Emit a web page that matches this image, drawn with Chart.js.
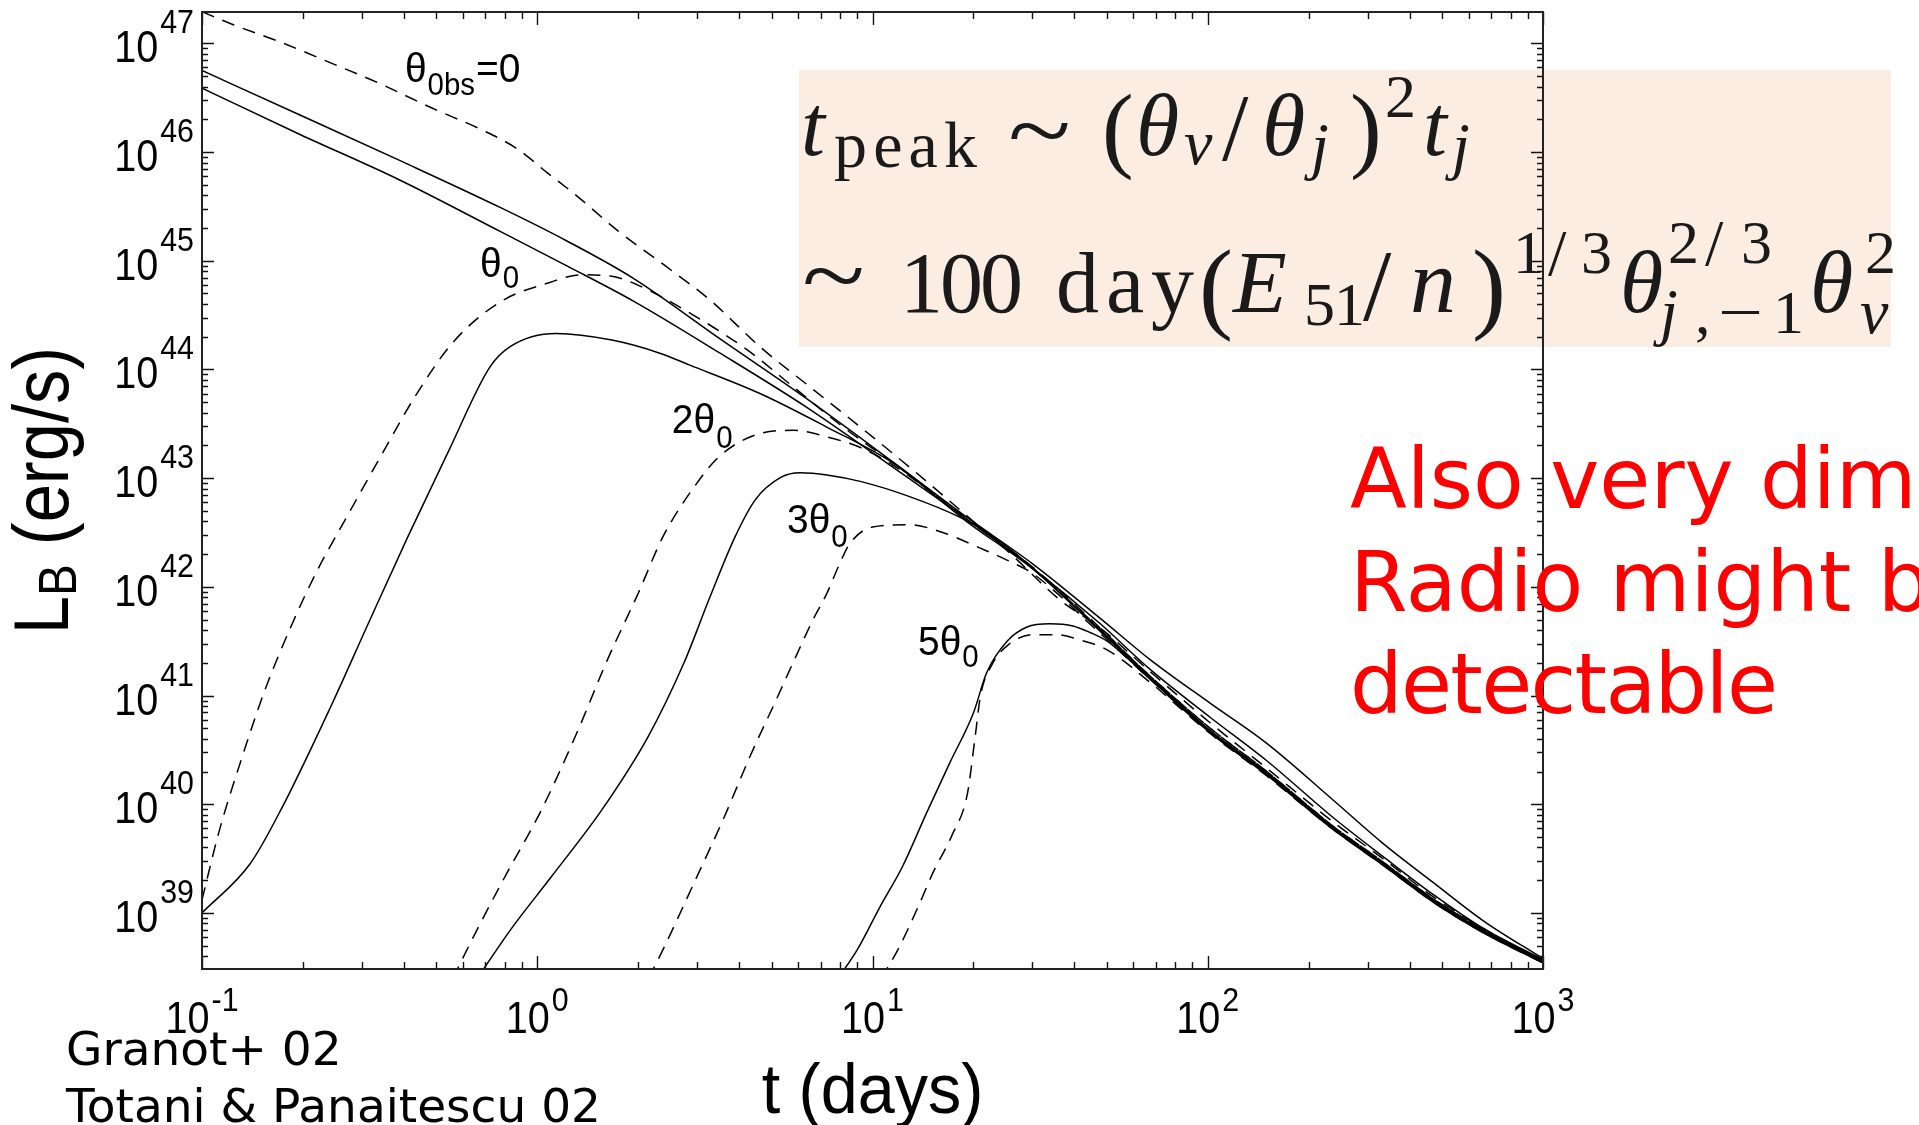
<!DOCTYPE html>
<html>
<head>
<meta charset="utf-8">
<script src="https://cdn.jsdelivr.net/npm/chart.js@4.4.1/dist/chart.umd.min.js"></script>
<style>
html,body{margin:0;padding:0;background:#fff;overflow:hidden;width:1919px;height:1125px;}
#wrap{position:relative;width:1919px;height:1125px;overflow:hidden;}
#box{position:absolute;left:799px;top:70px;width:1092px;height:277px;background:#FCEDE2;}
#c{position:absolute;left:0;top:0;}
#ov{position:absolute;left:0;top:0;pointer-events:none;overflow:hidden;}
.f{font-family:'Liberation Serif','DejaVu Serif',serif;fill:#1a1a1a;}
.i{font-style:italic;}
.red{font-family:'DejaVu Sans',sans-serif;fill:#ff0000;font-size:83px;}
.cr{font-family:'DejaVu Sans',sans-serif;fill:#000;font-size:47px;}
</style>
</head>
<body>
<div id="wrap">
<div id="box"></div>
<canvas id="c" width="1919" height="1125"></canvas>
<svg id="ov" width="1919" height="1125" xmlns="http://www.w3.org/2000/svg">
  <!-- formula line 1 -->
  <text class="f i" x="801" y="155" font-size="86">t</text>
  <text class="f" x="834" y="167" font-size="66" textLength="143" lengthAdjust="spacing">peak</text>
  <text class="f" x="1008" y="162" font-size="96" textLength="63" lengthAdjust="spacingAndGlyphs">~</text>
  <text class="f" x="1102" y="160" font-size="95">(</text>
  <text class="f i" x="1136" y="155" font-size="88">θ</text>
  <text class="f i" x="1184" y="164" font-size="64">v</text>
  <text class="f" x="1222" y="160" font-size="95">/</text>
  <text class="f i" x="1262" y="155" font-size="88">θ</text>
  <text class="f i" x="1311" y="167" font-size="64">j</text>
  <text class="f" x="1350" y="160" font-size="95">)</text>
  <text class="f" x="1385" y="117" font-size="62">2</text>
  <text class="f i" x="1423" y="155" font-size="86">t</text>
  <text class="f i" x="1452" y="167" font-size="64">j</text>
  <!-- formula line 2 -->
  <text class="f" x="802" y="307" font-size="96" textLength="63" lengthAdjust="spacingAndGlyphs">~</text>
  <text class="f" x="900" y="312" font-size="86" textLength="123" lengthAdjust="spacing">100</text>
  <text class="f" x="1056" y="312" font-size="86" textLength="138" lengthAdjust="spacing">day</text>
  <text class="f" x="1199" y="320" font-size="102">(</text>
  <text class="f i" x="1233" y="312" font-size="88">E</text>
  <text class="f" x="1304" y="325" font-size="62" textLength="61" lengthAdjust="spacing">51</text>
  <text class="f" x="1363" y="320" font-size="102">/</text>
  <text class="f i" x="1410" y="312" font-size="92">n</text>
  <text class="f" x="1472" y="320" font-size="102">)</text>
  <text class="f" x="1513" y="273" font-size="62">1</text>
  <text class="f" x="1548" y="275" font-size="66">/</text>
  <text class="f" x="1581" y="273" font-size="62">3</text>
  <text class="f i" x="1620" y="312" font-size="88">θ</text>
  <text class="f" x="1668" y="263" font-size="62">2</text>
  <text class="f" x="1705" y="265" font-size="66">/</text>
  <text class="f" x="1741" y="263" font-size="62">3</text>
  <text class="f i" x="1660" y="333" font-size="64">j</text>
  <text class="f" x="1695" y="333" font-size="62">,</text>
  <text class="f" x="1718" y="333" font-size="62" textLength="45" lengthAdjust="spacingAndGlyphs">−</text>
  <text class="f" x="1773" y="333" font-size="62">1</text>
  <text class="f i" x="1810" y="312" font-size="88">θ</text>
  <text class="f" x="1865" y="273" font-size="62">2</text>
  <text class="f i" x="1860" y="333" font-size="64">v</text>
  <!-- red note -->
  <text class="red" x="1350" y="508">Also very dim</text>
  <text class="red" x="1350" y="611">Radio might be</text>
  <text class="red" x="1350" y="713" textLength="428" lengthAdjust="spacing">detectable</text>
  <!-- credits -->
  <text class="cr" x="66" y="1065">Granot+ 02</text>
  <text class="cr" x="66" y="1122">Totani &amp; Panaitescu 02</text>
</svg>
</div>
<script>
// ---------------- data (t in days, L_B in erg/s) ----------------
// theta_obs = 0, dashed
const dash0_t = [0.1, 0.124, 0.175, 0.246, 0.333, 0.489, 0.689, 0.871, 1.07, 1.32, 1.73, 2.44, 3.27, 4.61, 6.5, 9.2, 12.9, 18.2, 25.7, 36.2, 47.8, 67.3, 101.6, 150, 236, 333, 470, 662, 1000];
const dash0_L = [1.95e47, 1.48e47, 1.00e47, 6.46e46, 4.37e46, 2.51e46, 1.58e46, 1.07e46, 6.46e45, 3.89e45, 1.91e45, 8.71e44, 4.37e44, 1.62e44, 6.92e43, 2.95e43, 1.26e43, 5.13e42, 2.04e42, 7.59e41, 4.17e41, 1.66e41, 5.62e40, 2.14e40, 6.92e39, 3.16e39, 1.41e39, 7.24e38, 3.63e38];
// upper straight solid
const solidA_t = [0.1, 0.196, 0.39, 0.775, 1.23, 1.93, 3.51, 6.3, 11.5, 19.1, 30.1, 47.8, 67.3, 101.6, 150, 236, 333, 470, 662, 1000];
const solidA_L = [5.62e46, 2.19e46, 8.32e45, 3.09e45, 1.51e45, 6.92e44, 1.91e44, 5.50e43, 1.41e43, 4.37e42, 1.62e42, 5.13e41, 2.14e41, 8.51e40, 3.63e40, 1.10e40, 4.37e39, 1.91e39, 8.51e38, 3.80e38];
// lower straight solid
const solidB_t = [0.1, 0.196, 0.39, 0.775, 1.23, 1.93, 3.51, 6.3, 11.5, 19.1, 30.1, 47.8, 67.3, 101.6, 150, 236, 333, 470, 662, 1000];
const solidB_L = [3.86e46, 1.45e46, 5.50e45, 1.86e45, 8.91e44, 4.27e44, 1.41e44, 4.57e43, 1.26e43, 4.17e42, 1.48e42, 4.57e41, 1.74e41, 6.31e40, 2.51e40, 7.59e39, 3.31e39, 1.48e39, 7.24e38, 3.72e38];
// theta_0, dashed
const dash1_t = [0.1, 0.112, 0.130, 0.154, 0.184, 0.219, 0.27, 0.334, 0.438, 0.561, 0.775, 1.09, 1.34, 1.65, 1.98, 2.92, 4.23, 5.8, 8.17, 11.5, 19.1, 30.1, 47.8, 67.3, 101.6, 150, 236, 333, 470, 662, 1000];
const dash1_L = [1.32e39, 5.37e39, 2.40e40, 1.12e41, 4.27e41, 1.35e42, 4.37e42, 1.41e43, 6.03e43, 1.78e44, 4.17e44, 6.31e44, 7.41e44, 7.24e44, 6.03e44, 3.16e44, 1.51e44, 6.92e43, 2.95e43, 1.38e43, 4.27e42, 1.51e42, 4.17e41, 1.51e41, 5.01e40, 2.00e40, 6.31e39, 2.95e39, 1.35e39, 7.08e38, 3.63e38];
// 2 theta_0, solid
const solid2_t = [0.1, 0.139, 0.172, 0.244, 0.310, 0.411, 0.546, 0.722, 0.83, 1.14, 1.67, 2.32, 2.84, 4.6, 7.3, 11.5, 19.1, 30.1, 47.8, 67.3, 101.6, 150, 236, 333, 470, 662, 1000];
const solid2_L = [1.00e39, 2.82e39, 8.91e39, 8.32e40, 4.27e41, 2.88e42, 1.82e43, 1.05e44, 1.62e44, 2.14e44, 1.86e44, 1.41e44, 1.10e44, 6.03e43, 2.95e43, 1.38e43, 3.98e42, 1.45e42, 3.98e41, 1.48e41, 4.79e40, 1.95e40, 6.17e39, 2.88e39, 1.32e39, 6.92e38, 3.63e38];
// 2 theta_0, dashed
const dash2_t = [0.56, 0.66, 0.80, 1.03, 1.31, 1.62, 2.0, 2.37, 2.94, 3.49, 4.61, 5.8, 7.3, 9.2, 11.5, 19.1, 30.1, 47.8, 67.3, 101.6, 150, 236, 333, 470, 662, 1000];
const dash2_L = [2.51e38, 6.92e38, 2.14e39, 8.91e39, 4.47e40, 2.14e41, 8.71e41, 2.88e42, 8.32e42, 1.58e43, 2.57e43, 2.75e43, 2.40e43, 1.91e43, 1.32e43, 4.17e42, 1.48e42, 4.07e41, 1.51e41, 5.01e40, 2.00e40, 6.31e39, 2.95e39, 1.35e39, 7.08e38, 3.63e38];
// 3 theta_0, solid
const solid3_t = [0.68, 0.83, 1.10, 1.56, 2.14, 2.74, 3.25, 3.89, 4.47, 5.34, 6.08, 7.31, 9.19, 12.9, 18.2, 23.0, 30.1, 47.8, 67.3, 101.6, 150, 236, 333, 470, 662, 1000];
const solid3_L = [2.82e38, 6.92e38, 2.14e39, 8.91e39, 4.17e40, 2.00e41, 7.59e41, 2.88e42, 6.31e42, 1.02e43, 1.12e43, 1.07e43, 9.33e42, 6.76e42, 4.37e42, 2.88e42, 1.48e42, 3.89e41, 1.45e41, 4.68e40, 1.91e40, 6.03e39, 2.82e39, 1.29e39, 6.76e38, 3.55e38];
// 3 theta_0, dashed
const dash3_t = [2.15, 2.37, 2.94, 3.61, 4.31, 5.16, 5.91, 6.65, 7.31, 8.0, 8.57, 10.0, 12.9, 16.2, 20.5, 25.0, 30.1, 47.8, 67.3, 101.6, 150, 236, 333, 470, 662, 1000];
const dash3_L = [2.51e38, 4.57e38, 1.91e39, 7.59e39, 2.75e40, 9.12e40, 2.29e41, 5.01e41, 8.71e41, 1.66e42, 2.51e42, 3.55e42, 3.72e42, 3.16e42, 2.34e42, 1.78e42, 1.32e42, 3.72e41, 1.41e41, 4.57e40, 1.86e40, 6.03e39, 2.82e39, 1.29e39, 6.76e38, 3.55e38];
// 5 theta_0, solid
const solid5_t = [7.9, 9.0, 10.5, 12.3, 14.5, 17.0, 20.0, 21.9, 25.2, 28.9, 33.8, 39.6, 44.6, 50.1, 67.3, 101.6, 150, 236, 333, 470, 662, 1000];
const solid5_L = [2.51e38, 4.57e38, 1.12e39, 2.69e39, 8.32e39, 2.40e40, 6.92e40, 1.62e41, 3.16e41, 4.27e41, 4.57e41, 4.37e41, 3.80e41, 3.16e41, 1.41e41, 4.57e40, 1.86e40, 5.89e39, 2.75e39, 1.26e39, 6.61e38, 3.47e38];
// 5 theta_0, dashed
const dash5_t = [10.6, 11.9, 13.7, 15.2, 17.3, 19.2, 20.2, 21.0, 22.7, 25.5, 30.1, 35.5, 41.6, 50.1, 67.3, 101.6, 150, 236, 333, 470, 662, 1000];
const dash5_L = [2.51e38, 4.57e38, 1.15e39, 2.40e39, 5.25e39, 1.26e40, 3.98e40, 1.00e41, 1.91e41, 2.95e41, 3.63e41, 3.63e41, 3.24e41, 2.63e41, 1.32e41, 4.47e40, 1.82e40, 5.89e39, 2.75e39, 1.26e39, 6.61e38, 3.47e38];

// axis ranges and tick labels (powers of ten)
const xMin = 0.1, xMax = 1000;
const yMin = 3.05e38, yMax = 1.94e47;
const xTickExponents = [-1, 0, 1, 2, 3];
const yTickExponents = [39, 40, 41, 42, 43, 44, 45, 46, 47];

// curve annotations (anchored in data coordinates)
const curveLabels = [
  {pre: 'θ',  sub: '0bs', post: '=0', t: 0.403, L: 4.41e46, drop: 13},
  {pre: 'θ',  sub: '0',   post: '',   t: 0.675, L: 7.08e44, drop: 11},
  {pre: '2θ', sub: '0',   post: '',   t: 2.52,  L: 2.60e43, drop: 15},
  {pre: '3θ', sub: '0',   post: '',   t: 5.56,  L: 3.13e42, drop: 14},
  {pre: '5θ', sub: '0',   post: '',   t: 13.67, L: 2.36e41, drop: 12}
];

// ---------------- chart ----------------
const SANS = '"Liberation Sans", Arial, Helvetica, sans-serif';
function ds(t, L, dashed) {
  return {
    data: t.map((x, i) => ({x: x, y: L[i]})),
    borderColor: '#000', borderWidth: 1.5,
    borderDash: dashed ? [13, 9] : [],
    pointRadius: 0, fill: false,
    cubicInterpolationMode: 'monotone'
  };
}
function txt(ctx, s, x, y, size, sx, align) {
  ctx.save();
  ctx.font = size + 'px ' + SANS;
  ctx.textBaseline = 'alphabetic';
  ctx.fillStyle = '#000';
  const w = ctx.measureText(s).width * sx;
  let dx = 0;
  if (align === 'right') dx = -w; else if (align === 'center') dx = -w / 2;
  ctx.translate(x + dx, y);
  ctx.scale(sx, 1);
  ctx.fillText(s, 0, 0);
  ctx.restore();
  return w;
}
function measure(ctx, s, size, sx) {
  ctx.save(); ctx.font = size + 'px ' + SANS;
  const w = ctx.measureText(s).width * sx; ctx.restore(); return w;
}

const axesPlugin = {
  id: 'axesPlugin',
  afterDatasetsDraw(chart) {
    const ctx = chart.ctx, a = chart.chartArea;
    const xs = chart.scales.x, ys = chart.scales.y;
    ctx.save();
    // ticks
    ctx.strokeStyle = '#111';
    ctx.lineWidth = 1.4;
    const MAJ = 13, MIN = 7;
    ctx.beginPath();
    for (let e = -1; e <= 3; e++) {
      for (let m = 1; m <= 9; m++) {
        const v = m * Math.pow(10, e);
        if (v < xMin * 0.999 || v > xMax * 1.001) continue;
        const px = Math.round(xs.getPixelForValue(v)) + 0.5;
        const len = m === 1 ? MAJ : MIN;
        ctx.moveTo(px, a.bottom); ctx.lineTo(px, a.bottom - len);
        ctx.moveTo(px, a.top); ctx.lineTo(px, a.top + len);
      }
    }
    for (let e = 38; e <= 47; e++) {
      for (let m = 1; m <= 9; m++) {
        const v = m * Math.pow(10, e);
        if (v < yMin || v > yMax) continue;
        const py = Math.round(ys.getPixelForValue(v)) + 0.5;
        const len = m === 1 ? MAJ - 1 : MIN - 1;
        ctx.moveTo(a.left, py); ctx.lineTo(a.left + len, py);
        ctx.moveTo(a.right, py); ctx.lineTo(a.right - len, py);
      }
    }
    ctx.stroke();
    // frame
    ctx.lineWidth = 2;
    ctx.strokeStyle = '#222';
    ctx.strokeRect(a.left, a.top, a.right - a.left, a.bottom - a.top);

    // tick labels: 10^n
    const mainSize = 45, expSize = 33, msx = 0.88, esx = 0.92;
    xTickExponents.forEach(n => {
      const px = xs.getPixelForValue(Math.pow(10, n));
      const es = n < 0 ? '-' + (-n) : String(n);
      const wm = measure(ctx, '10', mainSize, msx), we = measure(ctx, es, expSize, esx);
      const left = px - (wm + we + 2) / 2;
      txt(ctx, '10', left, a.bottom + 64, mainSize, msx, 'left');
      txt(ctx, es, left + wm + 2, a.bottom + 42, expSize, esx, 'left');
    });
    yTickExponents.forEach(n => {
      const py = ys.getPixelForValue(Math.pow(10, n));
      const es = String(n);
      const we = measure(ctx, es, expSize, esx);
      const right = a.left - 8;
      txt(ctx, es, right - we, py - 10, expSize, esx, 'left');
      txt(ctx, '10', right - we - 2, py + 19, mainSize, msx, 'right');
    });

    // curve labels
    curveLabels.forEach(c => {
      const px = xs.getPixelForValue(c.t), py = ys.getPixelForValue(c.L);
      let x = px;
      x += txt(ctx, c.pre, x, py, 41, 0.95, 'left');
      x += txt(ctx, c.sub, x + 1, py + c.drop, 31, 0.95, 'left') + 1;
      if (c.post) txt(ctx, c.post, x + 1, py, 41, 0.95, 'left');
    });

    // x-axis title
    txt(ctx, 't (days)', (a.left + a.right) / 2, a.bottom + 144, 70, 0.95, 'center');

    // y-axis title (rotated)
    ctx.save();
    ctx.translate(a.left - 134, (a.top + a.bottom) / 2);
    ctx.rotate(-Math.PI / 2);
    const ysz = 78, ysx = 0.88;
    const w1 = measure(ctx, 'L', ysz, ysx), w2 = measure(ctx, 'B', 54, ysx), w3 = measure(ctx, ' (erg/s)', ysz, ysx);
    let x0 = -(w1 + w2 + w3) / 2;
    txt(ctx, 'L', x0, 0, ysz, ysx, 'left'); x0 += w1;
    txt(ctx, 'B', x0, 8, 54, ysx, 'left'); x0 += w2;
    txt(ctx, ' (erg/s)', x0, 0, ysz, ysx, 'left');
    ctx.restore();

    ctx.restore();
  }
};

new Chart(document.getElementById('c'), {
  type: 'line',
  data: {
    datasets: [
      ds(dash0_t, dash0_L, true),
      ds(solidA_t, solidA_L, false),
      ds(solidB_t, solidB_L, false),
      ds(dash1_t, dash1_L, true),
      ds(solid2_t, solid2_L, false),
      ds(dash2_t, dash2_L, true),
      ds(solid3_t, solid3_L, false),
      ds(dash3_t, dash3_L, true),
      ds(solid5_t, solid5_L, false),
      ds(dash5_t, dash5_L, true)
    ]
  },
  options: {
    responsive: false,
    devicePixelRatio: 1,
    animation: false,
    events: [],
    layout: {padding: {left: 202, right: 376, top: 12, bottom: 156}},
    plugins: {legend: {display: false}, tooltip: {enabled: false}, title: {display: false}},
    scales: {
      x: {type: 'logarithmic', min: xMin, max: xMax, display: false},
      y: {type: 'logarithmic', min: yMin, max: yMax, display: false}
    }
  },
  plugins: [axesPlugin]
});
</script>
</body>
</html>
